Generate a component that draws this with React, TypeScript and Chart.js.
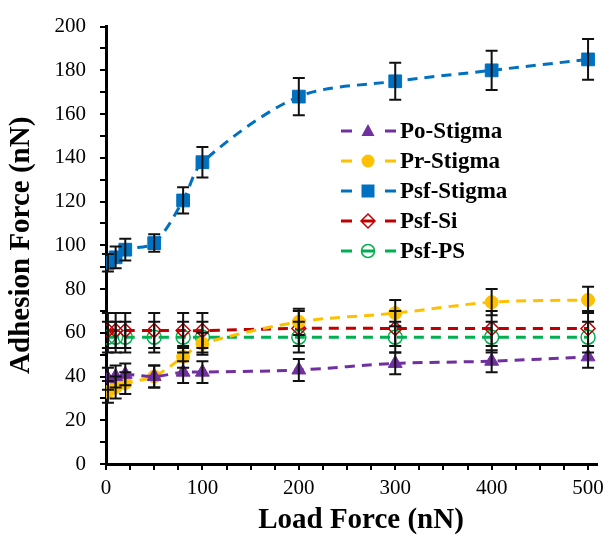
import React, { useEffect, useRef } from "react";
import { Chart, registerables } from "chart.js";

Chart.register(...registerables);

const loadForce = [2, 10, 20, 50, 80, 100, 200, 300, 400, 500];
const seriesNames = ["Po-Stigma", "Pr-Stigma", "Psf-Stigma", "Psf-Si", "Psf-PS"];
const poStigma = [39, 40, 41, 40, 42, 42, 43, 46, 47, 49];
const poStigmaErr = [5, 5, 5, 5, 5, 5, 5, 5, 5, 5];
const prStigma = [33, 35, 37, 40, 49, 55, 65, 69, 74, 75];
const prStigmaErr = [5, 5, 5, 5, 5, 5, 6, 6, 6, 6];
const psfStigma = [92, 94.5, 98, 101, 120.5, 138, 168, 175, 180, 185];
const psfStigmaErr = [4, 5, 5, 4, 6, 7, 8.5, 8.5, 9, 9.3];
const psfSi = [61, 61, 61, 61, 61, 61, 62, 62, 62, 62];
const psfSiErr = [8, 8, 8, 8, 8, 8, 8, 8, 8, 8];
const psfPS = [58, 58, 58, 58, 58, 58, 58, 58, 58, 58];
const psfPSErr = [7, 7, 7, 7, 7, 7, 7, 7, 7, 7];
const xTickLabels = ["0", "100", "200", "300", "400", "500"];
const yTickLabels = ["0", "20", "40", "60", "80", "100", "120", "140", "160", "180", "200"];

const SERIF = "'Liberation Serif', 'Times New Roman', serif";

function drawMarker(ctx: CanvasRenderingContext2D, style: string, x: number, y: number, color: string, filled: boolean) {
  ctx.save();
  ctx.setLineDash([]);
  ctx.fillStyle = color;
  ctx.strokeStyle = color;
  ctx.lineWidth = 1.5;
  ctx.beginPath();
  if (style === "triangle") {
    ctx.moveTo(x, y - 7);
    ctx.lineTo(x + 6.5, y + 5);
    ctx.lineTo(x - 6.5, y + 5);
    ctx.closePath();
  } else if (style === "rect") {
    ctx.rect(x - 6.5, y - 6.5, 13, 13);
  } else if (style === "rectRot") {
    ctx.moveTo(x, y - 7);
    ctx.lineTo(x + 7, y);
    ctx.lineTo(x, y + 7);
    ctx.lineTo(x - 7, y);
    ctx.closePath();
  } else {
    ctx.arc(x, y, 6.5, 0, Math.PI * 2);
  }
  if (filled) ctx.fill();
  else ctx.stroke();
  ctx.restore();
}

export default function App() {
  const ref = useRef<HTMLCanvasElement | null>(null);

  useEffect(() => {
    const canvas = ref.current;
    if (!canvas) return;

    const mk = (name: string, vals: number[], errs: number[], color: string, style: string, radius: number, fill: string) => ({
      label: name,
      data: loadForce.map((x, i) => ({ x, y: vals[i] })),
      errors: errs,
      borderColor: color,
      backgroundColor: color,
      borderWidth: 3,
      borderDash: [10, 7],
      tension: 0.3,
      pointStyle: style,
      pointRadius: radius,
      pointBackgroundColor: fill,
      pointBorderColor: color,
      pointBorderWidth: fill === "transparent" ? 1.5 : 1,
    });

    const datasets: any[] = [
      mk(seriesNames[0], poStigma, poStigmaErr, "#7030A0", "triangle", 8, "#7030A0"),
      mk(seriesNames[1], prStigma, prStigmaErr, "#FFC000", "circle", 6.5, "#FFC000"),
      mk(seriesNames[2], psfStigma, psfStigmaErr, "#0070C0", "rect", 9, "#0070C0"),
      mk(seriesNames[3], psfSi, psfSiErr, "#C00000", "rectRot", 7, "transparent"),
      mk(seriesNames[4], psfPS, psfPSErr, "#00B050", "circle", 7, "transparent"),
    ];

    const errorBars = {
      id: "errorBars",
      afterDatasetsDraw(chart: any) {
        const { ctx, scales } = chart;
        const xs = scales.x, ys = scales.y;
        ctx.save();
        ctx.strokeStyle = "#111";
        ctx.lineWidth = 2;
        ctx.setLineDash([]);
        chart.data.datasets.forEach((ds: any) => {
          ds.data.forEach((p: any, i: number) => {
            const e = ds.errors[i];
            const px = xs.getPixelForValue(p.x);
            const top = ys.getPixelForValue(p.y + e);
            const bot = ys.getPixelForValue(p.y - e);
            ctx.beginPath();
            ctx.moveTo(px, top);
            ctx.lineTo(px, bot);
            ctx.moveTo(px - 6, top);
            ctx.lineTo(px + 6, top);
            ctx.moveTo(px - 6, bot);
            ctx.lineTo(px + 6, bot);
            ctx.stroke();
          });
        });
        ctx.restore();
      },
    };

    const customText = {
      id: "customText",
      afterDraw(chart: any) {
        const { ctx, chartArea } = chart;
        ctx.save();
        ctx.fillStyle = "#000";
        ctx.font = `bold 29px ${SERIF}`;
        ctx.textAlign = "center";
        ctx.textBaseline = "middle";
        ctx.fillText("Load Force (nN)", 361, 521);
        ctx.save();
        ctx.translate(22, (chartArea.top + chartArea.bottom) / 2);
        ctx.rotate(-Math.PI / 2);
        ctx.fillText("Adhesion Force (nN)", 0, 0);
        ctx.restore();
        const rowY = [131, 161, 191, 221, 251];
        chart.data.datasets.forEach((ds: any, i: number) => {
          const y = rowY[i];
          const filled = ds.pointBackgroundColor !== "transparent";
          ctx.strokeStyle = ds.borderColor;
          ctx.lineWidth = 3;
          ctx.setLineDash([]);
          ctx.beginPath();
          ctx.moveTo(341, y);
          ctx.lineTo(352, y);
          ctx.moveTo(385, y);
          ctx.lineTo(396, y);
          if (!filled) {
            ctx.moveTo(362, y);
            ctx.lineTo(374, y);
          }
          ctx.stroke();
          drawMarker(ctx, ds.pointStyle, 368, y, ds.borderColor, filled);
          ctx.fillStyle = "#000";
          ctx.font = `bold 23px ${SERIF}`;
          ctx.textAlign = "left";
          ctx.textBaseline = "middle";
          ctx.fillText(ds.label, 400, y + 1);
        });
        ctx.restore();
      },
    };

    const chart = new Chart(canvas, {
      type: "line",
      data: { datasets },
      options: {
        animation: false,
        responsive: false,
        maintainAspectRatio: false,
        layout: { padding: { top: 24, right: 11, left: 0, bottom: 0 } },
        plugins: { legend: { display: false }, tooltip: { enabled: false } },
        scales: {
          x: {
            type: "linear",
            min: 0,
            max: 509,
            afterFit: (s: any) => { s.height = 74; },
            border: { display: true, color: "#000", width: 3 },
            grid: { display: true, drawOnChartArea: false, drawTicks: true, tickLength: 6, color: "#000", lineWidth: 2 },
            ticks: {
              stepSize: 25,
              includeBounds: false,
              autoSkip: false,
              maxRotation: 0,
              padding: 6,
              color: "#000",
              font: { family: SERIF, size: 21 },
              callback: (v: any) => (v % 100 === 0 ? xTickLabels[v / 100] : ""),
            },
          },
          y: {
            type: "linear",
            min: 0,
            max: 200,
            afterFit: (s: any) => { s.width = 106; },
            border: { display: true, color: "#000", width: 3 },
            grid: { display: true, drawOnChartArea: false, drawTicks: true, tickLength: 6, color: "#000", lineWidth: 2 },
            ticks: {
              stepSize: 10,
              autoSkip: false,
              padding: 14,
              color: "#000",
              font: { family: SERIF, size: 21 },
              callback: (v: any) => (v % 20 === 0 ? yTickLabels[v / 20] : ""),
            },
          },
        },
      },
      plugins: [errorBars, customText],
    } as any);

    return () => chart.destroy();
  }, []);

  return (
    <div style={{ position: "absolute", left: 0, top: 0, width: 610, height: 538, background: "#fff" }}>
      <canvas ref={ref} width={610} height={538} style={{ width: 610, height: 538 }} />
    </div>
  );
}
